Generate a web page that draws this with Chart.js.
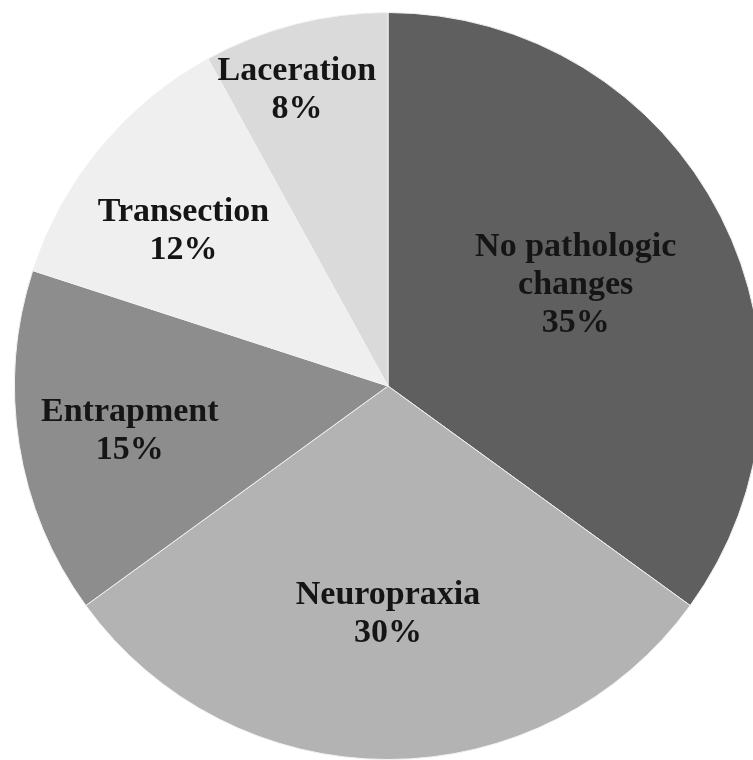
<!DOCTYPE html>
<html>
<head>
<meta charset="utf-8">
<script src="https://cdn.jsdelivr.net/npm/chart.js@4.4.1/dist/chart.umd.min.js"></script>
<style>
  html, body { margin: 0; padding: 0; background: #fff; overflow: hidden; width: 753px; height: 760px; }
  #wrap { position: absolute; left: 14px; top: 12px; width: 748px; height: 748px; }
</style>
</head>
<body>
<div id="wrap"><canvas id="chart-pie"></canvas></div>
<script>
// datos de la tarta (en sentido horario desde las 12)
const categorias = ['No pathologic changes', 'Neuropraxia', 'Entrapment', 'Transection', 'Laceration'];
const valores = [35, 30, 15, 12, 8];
const lineasEtiqueta = [['No pathologic', 'changes'], ['Neuropraxia'], ['Entrapment'], ['Transection'], ['Laceration']];

const colores = ['#5f5f5f', '#b3b3b3', '#8d8d8d', '#efefef', '#dadada'];
// distancia de la etiqueta al centro (fracción del radio) y ajuste fino en px
const distEtiqueta = [0.57, 0.60, 0.70, 0.69, 0.83];
const ajusteEtiqueta = [[-2, -4], [0, 4], [0, 4], [-6, 9], [-14, 4]];

const etiquetasPlugin = {
    id: 'etiquetas',
    afterDatasetsDraw(chart) {
        const ctx = chart.ctx;
        const meta = chart.getDatasetMeta(0);
        const total = valores.reduce((a, b) => a + b, 0);
        ctx.save();
        ctx.font = 'bold 34px "Liberation Serif", "Times New Roman", serif';
        ctx.fillStyle = '#151515';
        ctx.textAlign = 'center';
        ctx.textBaseline = 'middle';
        meta.data.forEach((arc, i) => {
            const p = arc.getProps(['x', 'y', 'startAngle', 'endAngle', 'outerRadius'], true);
            const mid = (p.startAngle + p.endAngle) / 2;
            const r = p.outerRadius * distEtiqueta[i];
            const cx = p.x + Math.cos(mid) * r + ajusteEtiqueta[i][0];
            const cy = p.y + Math.sin(mid) * r + ajusteEtiqueta[i][1];
            const lineas = lineasEtiqueta[i].concat([Math.round(valores[i] / total * 100) + '%']);
            const alto = 38;
            const y0 = cy - (lineas.length - 1) * alto / 2;
            lineas.forEach((t, k) => ctx.fillText(t, cx, y0 + k * alto));
        });
        ctx.restore();
    }
};

new Chart(document.getElementById('chart-pie'), {
    type: 'pie',
    data: {
        labels: categorias,
        datasets: [{ data: valores, backgroundColor: colores, borderColor: '#f2f2f2', borderWidth: 1 }]
    },
    options: {
        responsive: true, maintainAspectRatio: false, animation: false,
        layout: { padding: 0 },
        plugins: { legend: { display: false }, tooltip: { enabled: false } }
    },
    plugins: [etiquetasPlugin]
});
</script>
</body>
</html>
